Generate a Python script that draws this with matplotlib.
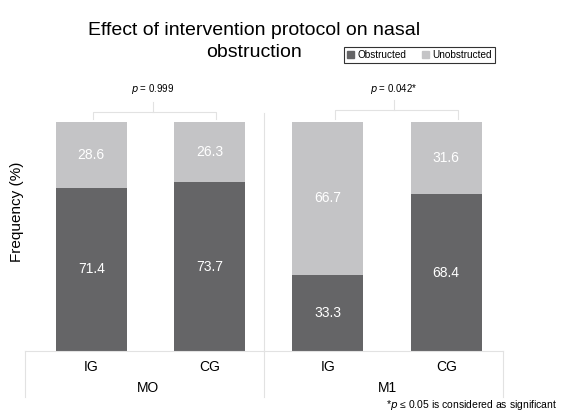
import matplotlib
matplotlib.use('Agg')
from matplotlib import pyplot as plt
from matplotlib.patches import Patch
import numpy as np

# data
groups = ['IG', 'CG', 'IG', 'CG']
times = ['MO', 'M1']
obstructed = [71.4, 73.7, 33.3, 68.4]
unobstructed = [28.6, 26.3, 66.7, 31.6]
pvals = ['$p$ = 0.999', '$p$ = 0.042*']

dark = '#656567'
light = '#c4c4c6'
grid = '#e2e2e2'

plt.rcParams['font.family'] = ['Liberation Sans', 'DejaVu Sans']

fig = plt.figure(figsize=(5.63, 4.13), dpi=100)
ax = fig.add_axes([0.0444, 0.150, 0.849, 0.5545])

x = np.arange(len(groups))
w = 0.6
ax.bar(x, obstructed, w, color=dark)
ax.bar(x, unobstructed, w, bottom=obstructed, color=light)

# value labels inside the bars
for i in range(len(x)):
    ax.text(x[i], obstructed[i] / 2, f'{obstructed[i]:.1f}', color='white',
            ha='center', va='center', fontsize=10)
    ax.text(x[i], obstructed[i] + unobstructed[i] / 2, f'{unobstructed[i]:.1f}',
            color='white', ha='center', va='center', fontsize=10)

ax.set_xlim(-0.56, 3.48)
ax.set_ylim(0, 100)
for s in ['top', 'right', 'left']:
    ax.spines[s].set_visible(False)
ax.spines['bottom'].set_color(grid)
ax.set_xticks([])
ax.set_yticks([])

# divider between time points
ax.plot([1.46, 1.46], [0, 104], color=grid, lw=0.8, clip_on=False)

# table-like axis below
for xv in [-0.56, 1.46, 3.48]:
    ax.plot([xv, xv], [0, -20], color=grid, lw=0.8, clip_on=False)
for i in range(len(x)):
    ax.text(x[i], -7, groups[i], ha='center', va='center', fontsize=10)
ax.text(0.48, -16.2, times[0], ha='center', va='center', fontsize=10)
ax.text(2.50, -16.2, times[1], ha='center', va='center', fontsize=10)

# significance brackets
brackets = [(0.015, 1.056, 0.52, 104.5), (2.06, 3.097, 2.56, 105.2)]
for (a, b, m, yb), p in zip(brackets, pvals):
    ax.plot([a, a, b, b], [101.3, yb, yb, 101.3], color=grid, lw=0.8, clip_on=False)
    ax.plot([m, m], [yb, yb + 4.3], color=grid, lw=0.8, clip_on=False)
    ax.text(m, 114.5, p, ha='center', va='center', fontsize=7)

ax.set_ylabel('Frequency (%)', fontsize=11)
ax.yaxis.set_label_coords(-0.003, 0.607)

# title as two lines so the second line sits beside the legend
fig.text(0.451, 0.927, 'Effect of intervention protocol on nasal',
         ha='center', va='center', fontsize=14)
fig.text(0.451, 0.874, 'obstruction', ha='center', va='center', fontsize=14)

handles = [Patch(color=dark, label='Obstructed'), Patch(color=light, label='Unobstructed')]
leg = fig.legend(handles=handles, loc='center', bbox_to_anchor=(0.745, 0.866), ncol=2,
                 fontsize=7.2, frameon=True, fancybox=False, edgecolor='black',
                 handlelength=0.7, handleheight=0.7, handletextpad=0.3,
                 columnspacing=1.6, borderpad=0.3)
leg.get_frame().set_linewidth(0.8)

fig.text(0.99, 0.02, '*$p$ \u2264 0.05 is considered as significant', ha='right',
         va='center', fontsize=7.5)

fig.savefig('out.png', dpi=100)
